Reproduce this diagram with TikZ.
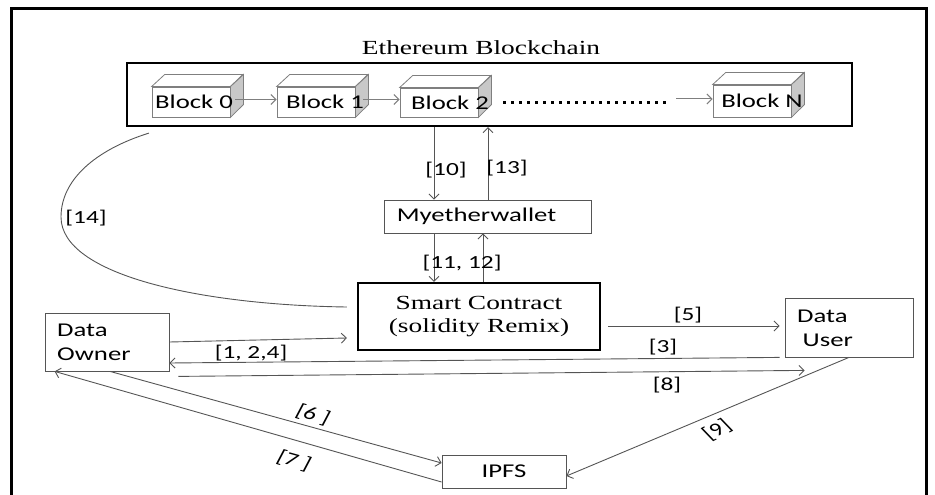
\documentclass[tikz,border=0pt]{standalone}
\usepackage{fontspec}
\usepackage{graphicx}
\setmainfont{Liberation Serif}
\newfontfamily\carl{Carlito}
\usetikzlibrary{arrows.meta}
\newcommand{\sx}[1]{\scalebox{1.37}[1]{#1}}
\definecolor{linegray}{HTML}{555555}
\definecolor{blockgray}{HTML}{7F7F7F}
\definecolor{sidegray}{HTML}{C8C8C8}
\tikzset{
  box/.style={draw=linegray, line width=0.8pt, inner sep=0pt, fill=white},
  thickbox/.style={draw=black, line width=2.2pt, inner sep=0pt},
  face/.style={draw=blockgray, line width=0.8pt, fill=white, inner sep=0pt, minimum width=78pt},
  facepart/.style={draw=blockgray, line width=0.8pt},
  conn/.style={draw=linegray, line width=0.9pt},
  arr/.style={conn, -{Straight Barb[length=5pt,width=10pt]}},
  arrg/.style={draw=blockgray, line width=1pt, -{Straight Barb[length=5pt,width=10pt]}},
  lbl/.style={inner sep=0pt, font=\carl\fontsize{18.5}{22}\selectfont},
  sans/.style={inner sep=0pt, font=\carl\fontsize{19.5}{24}\selectfont},
  serif/.style={inner sep=0pt, font=\fontsize{20}{23}\selectfont},
  dots/.style={draw=black, line width=3pt, dash pattern=on 3pt off 5pt}
}
\begin{document}
\begin{tikzpicture}[x=1pt,y=-1pt]
\useasboundingbox (0,0) rectangle (935,495);
% outer frame
\draw[line width=3pt] (11,520) -- (11,9) -- (926,9) -- (926,520);

% title and blockchain box
\node[serif, anchor=base] (title) at (481,55) {\sx{Ethereum Blockchain}};
\node[thickbox, minimum width=725pt, minimum height=63pt] (chain) at (489.5,94.5) {};

% blocks
\foreach \n/\cx/\cy/\h/\tx/\ty/\lab in {0/191/102/30/194/102/Block 0, 1/316/102/30/325/102/Block 1, 2/439/102.5/29/450/103/Block 2, N/752/101/32/762/101/Block N}{
  \node[face, minimum height=\h pt] (b\n) at (\cx,\cy) {};
  \draw[facepart, fill=white] (b\n.north west) -- ++(13,-12) -- ++(78,0) -- (b\n.north east) -- cycle;
  \draw[facepart, fill=sidegray] (b\n.north east) -- ++(13,-12) -- ++(0,\h) -- (b\n.south east) -- cycle;
  \node[sans] (t\n) at (\tx,\ty) {\sx{\lab}};
}
\draw[arrg] ([xshift=5pt,yshift=2.5pt]b0.east) -- ([yshift=2.5pt]b1.west);
\draw[arrg] ([xshift=8pt,yshift=2.5pt]b1.east) -- ([yshift=3pt]b2.west);
\coordinate (dotS) at (503,103);
\coordinate (dotE) at (668,103);
\draw[dots] (dotS) -- (dotE);
\coordinate (nstart) at (676,99);
\draw[arrg] (nstart) -- (bN.west |- nstart);

% main boxes
\node[box, sans, minimum width=207pt, minimum height=33pt] (wallet) at (487.5,216.5) {\sx{Myetherwallet}\hspace*{22pt}};
\node[thickbox, fill=white, serif, minimum width=242pt, minimum height=67pt] (sc) at (479,316.5)
  {\sx{\begin{tabular}{@{}c@{}}Smart Contract\\(solidity Remix)\end{tabular}}};
\node[box, minimum width=124pt, minimum height=58pt] (owner) at (107,342) {};
\node[sans, anchor=base west] (ownertxt) at (57,336) {\sx{\begin{tabular}[t]{@{}l@{}}Data\\Owner\end{tabular}}};
\node[box, minimum width=128pt, minimum height=59pt] (user) at (849,327.5) {};
\node[sans, anchor=base west] (usertxt) at (797,322) {\sx{\begin{tabular}[t]{@{}l@{}}Data\\\hspace*{4pt}User\end{tabular}}};
\node[box, sans, minimum width=124pt, minimum height=33pt] (ipfs) at (504,471.5) {\sx{IPFS}};

% columns
\coordinate (c434) at (434,0);
\coordinate (c488) at (488,0);
\coordinate (c483) at (483,0);

% connectors
\draw[arr] (chain.south -| c434) -- (wallet.north -| c434);
\draw[arr] (wallet.north -| c488) -- (chain.south -| c488);
\draw[arr] (wallet.south -| c434) -- (sc.north -| c434);
\draw[arr] (sc.north -| c483) -- (wallet.south -| c483);
\draw[conn] ([xshift=23pt,yshift=-6pt]chain.south west) .. controls (95,150) and (61,180) .. (61,217)
  .. controls (61,275) and (200,305) .. ([xshift=-10pt,yshift=9.5pt]sc.west);
\draw[arr] (owner.east) -- ([xshift=-10pt,yshift=-21.5pt]sc.west);
\draw[arr] ([xshift=-5pt]user.south west) -- ([yshift=-21pt]owner.east);
\draw[arr] ([xshift=9pt,yshift=-5pt]owner.south east) -- ([xshift=20pt,yshift=-13pt]user.south west);
\draw[arr] ([xshift=7pt,yshift=-9.5pt]sc.east) -- ([xshift=-5pt,yshift=1.5pt]user.west);
\draw[arr] (user.south) -- ([yshift=-4.5pt]ipfs.east);
\draw[arr] ([xshift=3pt]owner.south) -- ([yshift=8.5pt]ipfs.west);
\draw[arr] ([yshift=-10.5pt]ipfs.west) -- ([xshift=10pt]owner.south west);

% labels
\node[lbl] (l10) at (446,170) {\sx{[10]}};
\node[lbl] (l13) at (507,168) {\sx{[13]}};
\node[lbl] (l1112) at (462,263) {\sx{[11, 12]}};
\node[lbl] (l14) at (86,218) {\sx{[14]}};
\node[lbl] (l124) at (251,353) {\sx{[1, 2,4]}};
\node[lbl] (l3) at (663,347) {\sx{[3]}};
\node[lbl] (l5) at (688,315) {\sx{[5]}};
\node[lbl] (l8) at (667,385) {\sx{[8]}};
\node[lbl] (l9) at (717,430) {\sx{\rotatebox{35}{[9]}}};
\node[lbl] (l6) at (313,415) {\sx{\rotatebox{-21}{[6 ]}}};
\node[lbl] (l7) at (294,461) {\sx{\rotatebox{-21}{[7 ]}}};
\end{tikzpicture}
\end{document}
